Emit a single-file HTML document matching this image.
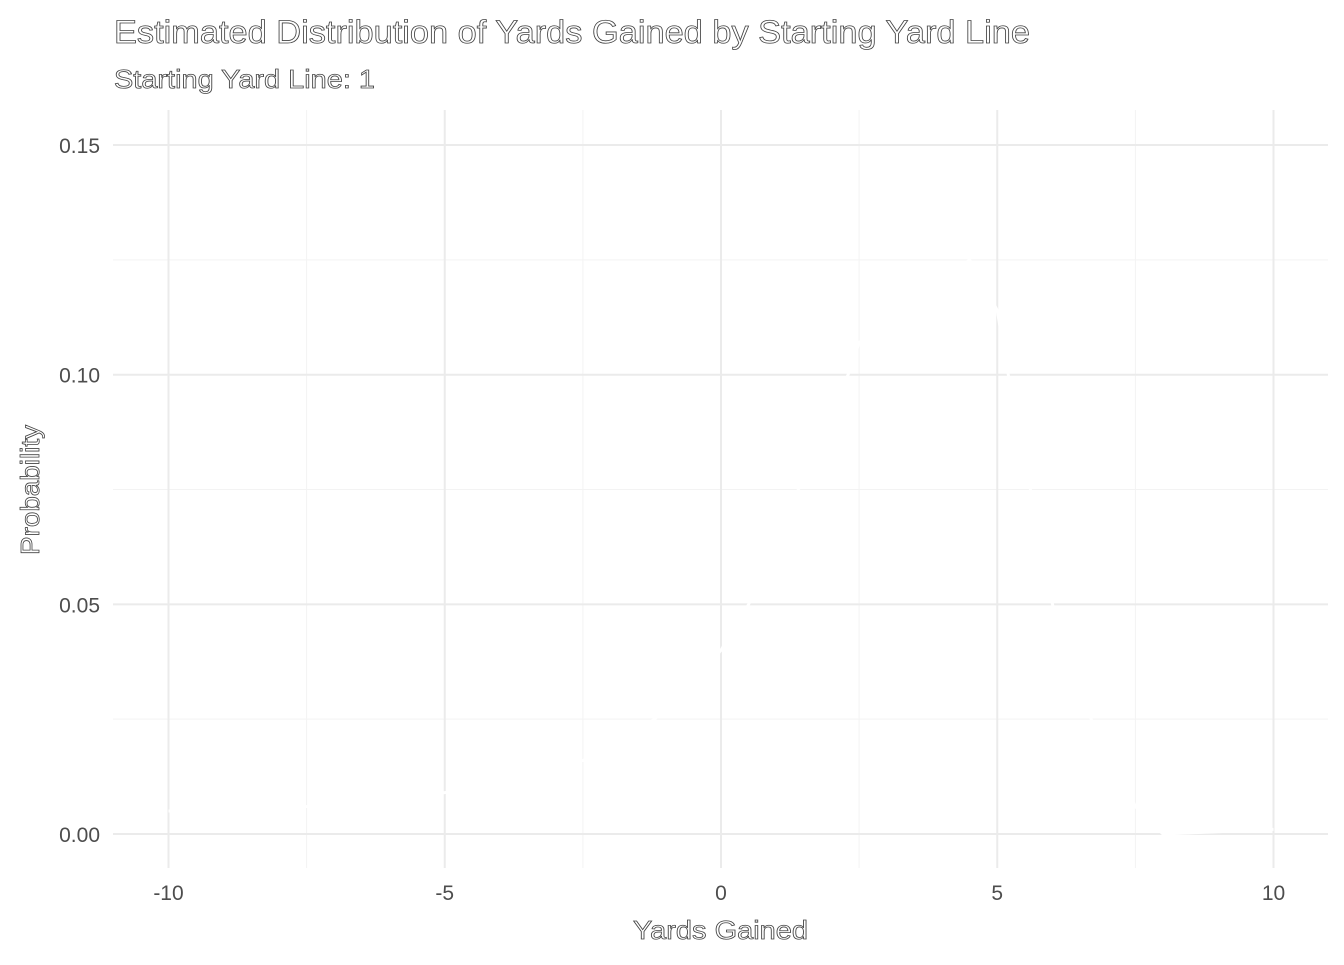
<!DOCTYPE html>
<html><head><meta charset="utf-8"><style>
body{margin:0;background:#fff;}
svg text{font-family:"Liberation Sans",sans-serif;}
.ghost{fill:#fff;stroke:#444;stroke-width:0.8px;}
</style></head><body>
<svg id="chart" width="1344" height="960">
<g id="grid"></g>
<g id="marks"></g>
<g id="axes"></g>
<text class="ghost" x="114" y="43" font-size="32" textLength="916" lengthAdjust="spacingAndGlyphs">Estimated Distribution of Yards Gained by Starting Yard Line</text>
<text class="ghost" x="114" y="88" font-size="26" textLength="261" lengthAdjust="spacingAndGlyphs">Starting Yard Line: 1</text>
<text class="ghost" x="633" y="939" font-size="26" textLength="175" lengthAdjust="spacingAndGlyphs">Yards Gained</text>
<text class="ghost" transform="translate(39,555) rotate(-90)" font-size="26" textLength="130" lengthAdjust="spacingAndGlyphs">Probability</text>
</svg>
<script>
const xTicks=[-10,-5,0,5,10];
const xMinor=[-7.5,-2.5,2.5,7.5];
const yTicks=[0,0.05,0.10,0.15];
const yMinor=[0.025,0.075,0.125];
const yTickLabels=["0.00","0.05","0.10","0.15"];
const yardsX=[-10,-7.5,-5,-2.5,-1.2,0,0.5,2.3,2.5,4.5,5,5.2,6,6.7,7.5,8,10];
const probY=[0.005,0.006,0.009,0.016,0.025,0.04,0.05,0.1,0.107,0.125,0.114,0.1,0.05,0.025,0.006,0,0.001];
const sx=v=>721+v*55.25;
const sy=v=>834-v*4593;
const NS="http://www.w3.org/2000/svg";
function mk(t,a,p){const e=document.createElementNS(NS,t);for(const k in a)e.setAttribute(k,a[k]);p.appendChild(e);return e;}
const grid=document.getElementById('grid'),axes=document.getElementById('axes'),marks=document.getElementById('marks');
xMinor.forEach(v=>{const l=mk('line',{x1:sx(v),x2:sx(v),y1:110,y2:868,stroke:'#f3f3f3','stroke-width':1},grid);

});
yMinor.forEach(v=>{const l=mk('line',{x1:113,x2:1328,y1:sy(v),y2:sy(v),stroke:'#f3f3f3','stroke-width':1},grid);

});
xTicks.forEach(v=>{const l=mk('line',{x1:sx(v),x2:sx(v),y1:110,y2:868,stroke:'#ebebeb','stroke-width':2},grid);


const t=mk('text',{x:sx(v),y:900,'font-size':21,'text-anchor':'middle',fill:'#4d4d4d'},axes);t.textContent=v;

});
yTicks.forEach((v,i)=>{const l=mk('line',{x1:113,x2:1328,y1:sy(v),y2:sy(v),stroke:'#ebebeb','stroke-width':2},grid);


const t=mk('text',{x:100,y:sy(v)+8,'font-size':21,'text-anchor':'end',fill:'#4d4d4d'},axes);t.textContent=yTickLabels[i];

});
const pts=yardsX.map((x,i)=>sx(x)+','+sy(probY[i])).join(' ');
const pl=mk('polyline',{points:pts,fill:'none',stroke:'#ffffff','stroke-width':3},marks);


</script>
</body></html>
